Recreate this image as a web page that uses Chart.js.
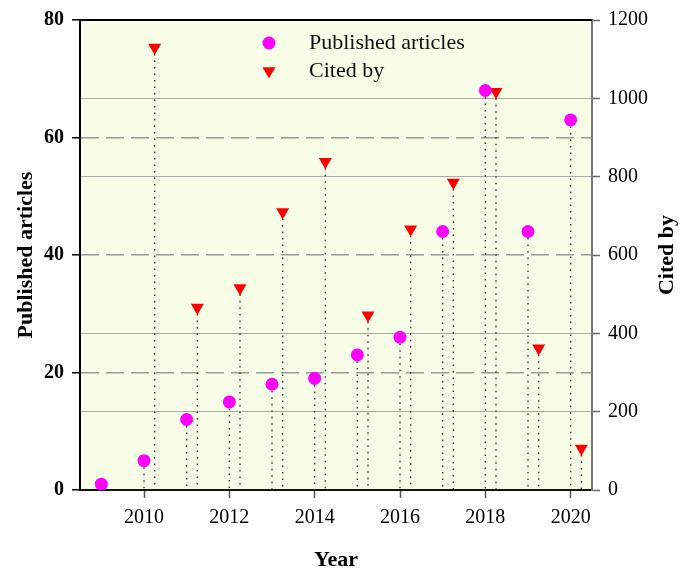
<!DOCTYPE html>
<html>
<head>
<meta charset="utf-8">
<script src="https://cdn.jsdelivr.net/npm/chart.js@4"></script>
<style>
  body { margin: 0; background: #fff; }
  #wrap { width: 691px; height: 572px; position: relative; }
</style>
</head>
<body>
<div id="wrap"><canvas id="pubChart"></canvas></div>
<script>
// values
const years = [2009, 2010, 2011, 2012, 2013, 2014, 2015, 2016, 2017, 2018, 2019, 2020];
const publishedArticles = [1, 5, 12, 15, 18, 19, 23, 26, 44, 68, 44, 63];
const citedBy = [null, 1130, 466, 516, 710, 838, 446, 666, 785, 1017, 362, 106];
const xTickYears = [2010, 2012, 2014, 2016, 2018, 2020];
const seriesNames = ['Published articles', 'Cited by'];
const axisTitles = { x: 'Year', left: 'Published articles', right: 'Cited by' };

const citeShift = 0.25; // cited-by markers sit a quarter year to the right
const serif = '"Liberation Serif", "DejaVu Serif", serif';

const pubPoints = years.map((y, i) => ({ x: y, y: publishedArticles[i] }));
const citePoints = years
  .map((y, i) => ({ x: y + citeShift, y: citedBy[i] }))
  .filter(p => p.y !== null);

// plot background + dotted drop lines under the markers
const backdrop = {
  id: 'backdrop',
  beforeDraw(chart) {
    const { ctx, chartArea: a } = chart;
    ctx.save();
    ctx.fillStyle = '#f8fde8';
    ctx.fillRect(a.left, a.top, a.right - a.left, a.bottom - a.top);
    ctx.restore();
  },
  beforeDatasetsDraw(chart) {
    const { ctx, chartArea: a } = chart;
    ctx.save();
    ctx.strokeStyle = '#222';
    ctx.lineWidth = 1.3;
    ctx.setLineDash([1.5, 5]);
    chart.data.datasets.forEach((ds, i) => {
      chart.getDatasetMeta(i).data.forEach(pt => {
        ctx.beginPath();
        ctx.moveTo(pt.x, pt.y);
        ctx.lineTo(pt.x, a.bottom);
        ctx.stroke();
      });
    });
    ctx.restore();
  }
};

function drawMarker(ctx, style, x, y, r, color) {
  ctx.fillStyle = color;
  ctx.beginPath();
  if (style === 'circle') {
    ctx.arc(x, y, r, 0, Math.PI * 2);
  } else {
    // downward triangle
    ctx.moveTo(x, y + r);
    ctx.lineTo(x - r * 0.866, y - r / 2);
    ctx.lineTo(x + r * 0.866, y - r / 2);
    ctx.closePath();
  }
  ctx.fill();
}

// legend inside the plot, frame top line, axis titles
const decorations = {
  id: 'decorations',
  afterDraw(chart) {
    const { ctx, chartArea: a } = chart;
    ctx.save();

    ctx.strokeStyle = '#000';
    ctx.lineWidth = 2;
    ctx.beginPath();
    ctx.moveTo(a.left, a.top);
    ctx.lineTo(a.right, a.top);
    ctx.stroke();

    const lx = 269, ly = [43, 71];
    chart.data.datasets.forEach((ds, i) => {
      drawMarker(ctx, ds.pointStyle === 'circle' ? 'circle' : 'tri', lx, ly[i],
        ds.pointRadius, ds.backgroundColor);
      ctx.fillStyle = '#111';
      ctx.font = '22px ' + serif;
      ctx.textBaseline = 'middle';
      ctx.textAlign = 'left';
      ctx.fillText(ds.label, 309, ly[i]);
    });

    ctx.fillStyle = '#000';
    ctx.font = 'bold 22px ' + serif;
    ctx.textAlign = 'center';
    ctx.textBaseline = 'alphabetic';
    ctx.fillText(axisTitles.x, (a.left + a.right) / 2, 566);

    ctx.save();
    ctx.translate(32, (a.top + a.bottom) / 2);
    ctx.rotate(-Math.PI / 2);
    ctx.fillText(axisTitles.left, 0, 0);
    ctx.restore();

    ctx.save();
    ctx.translate(673, (a.top + a.bottom) / 2);
    ctx.rotate(-Math.PI / 2);
    ctx.fillText(axisTitles.right, 0, 0);
    ctx.restore();

    ctx.restore();
  }
};

new Chart(document.getElementById('pubChart'), {
  type: 'scatter',
  data: {
    datasets: [
      {
        label: seriesNames[0],
        data: pubPoints,
        yAxisID: 'y',
        pointStyle: 'circle',
        pointRadius: 6.5,
        backgroundColor: '#ff00ff',
        borderWidth: 0
      },
      {
        label: seriesNames[1],
        data: citePoints,
        yAxisID: 'y1',
        pointStyle: 'triangle',
        rotation: 180,
        pointRadius: 7.5,
        backgroundColor: '#ff0000',
        borderWidth: 0
      }
    ]
  },
  options: {
    responsive: true,
    maintainAspectRatio: false,
    animation: false,
    layout: { padding: { top: 17, left: 0, right: 0, bottom: 0 } },
    plugins: { legend: { display: false }, tooltip: { enabled: false } },
    scales: {
      x: {
        type: 'linear',
        min: 2008.5,
        max: 2020.5,
        afterBuildTicks: s => { s.ticks = xTickYears.map(v => ({ value: v })); },
        afterFit: s => { s.height = 82; },
        ticks: {
          padding: 8,
          color: '#000',
          font: { family: serif, size: 20 },
          callback: v => String(v)
        },
        grid: { drawOnChartArea: false, tickLength: 8, tickColor: '#555', tickWidth: 1.5 },
        border: { color: '#111', width: 2 }
      },
      y: {
        position: 'left',
        min: 0,
        max: 80,
        afterFit: s => { s.width = 80; },
        ticks: {
          stepSize: 20,
          padding: 8,
          color: '#000',
          font: { family: serif, size: 20, weight: 'bold' },
          callback: v => String(v)
        },
        grid: {
          color: c => (c.tick && c.tick.value > 0 && c.tick.value < 80) ? '#9a9a9a' : 'rgba(0,0,0,0)',
          lineWidth: 1.6,
          tickColor: '#000',
          tickWidth: 1.5,
          tickLength: 8,
          tickBorderDash: []
        },
        border: { color: '#000', width: 2, dash: [18, 7] }
      },
      y1: {
        position: 'right',
        min: 0,
        max: 1200,
        afterFit: s => { s.width = 99; },
        ticks: {
          stepSize: 200,
          padding: 8,
          color: '#000',
          font: { family: serif, size: 20 },
          callback: v => String(v)
        },
        grid: {
          color: c => {
            const v = c.tick ? c.tick.value : 0;
            return (v > 0 && v < 1200 && v !== 600) ? '#aaaaaa' : 'rgba(0,0,0,0)';
          },
          lineWidth: 1,
          tickColor: '#666',
          tickWidth: 1.5,
          tickLength: 8
        },
        border: { color: '#777', width: 2 }
      }
    }
  },
  plugins: [backdrop, decorations]
});
</script>
</body>
</html>
